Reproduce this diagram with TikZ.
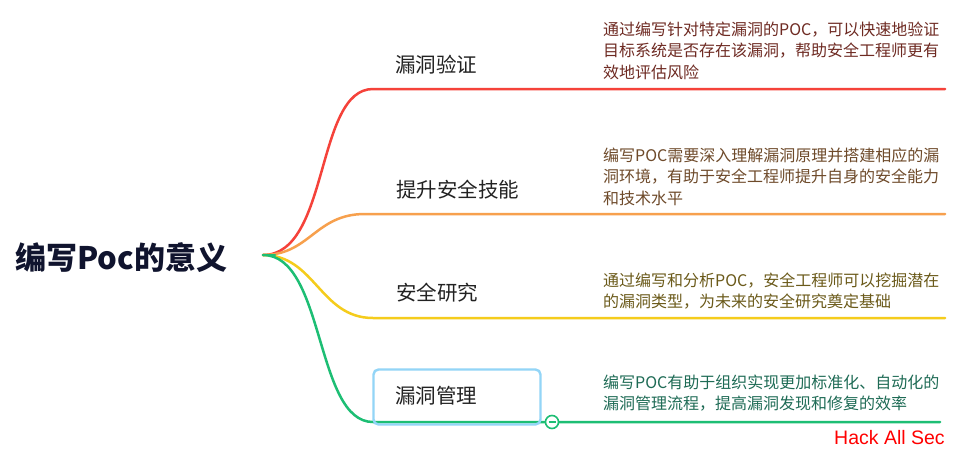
\documentclass[tikz,border=0pt]{standalone}
\usepackage{fontspec}
\newfontfamily\cjk{Noto Sans CJK SC}
\newfontfamily\wmfont{Liberation Sans}
\definecolor{cred}{HTML}{F5423A}
\definecolor{corange}{HTML}{F7A04D}
\definecolor{cyellow}{HTML}{F5CC1C}
\definecolor{cgreen}{HTML}{1DBE74}
\definecolor{cbox}{HTML}{93D5F7}
\definecolor{tred}{HTML}{6E2A22}
\definecolor{torange}{HTML}{6E4A2A}
\definecolor{tyellow}{HTML}{6B5A1A}
\definecolor{tgreen}{HTML}{1E6B55}
\definecolor{troot}{HTML}{10142E}
\definecolor{tlabel}{HTML}{222222}
\tikzset{
  branch/.style={line width=2.5pt, line cap=round},
  label/.style={anchor=west, inner sep=0pt, text=tlabel, font=\cjk\fontsize{20.5}{24}\selectfont},
  desc/.style={anchor=west, inner sep=0pt, align=left, font=\cjk\fontsize{16}{21.5}\selectfont},
}
\begin{document}
\begin{tikzpicture}[x=1pt,y=-1pt]
\useasboundingbox[fill=white] (0,0) rectangle (959,448);
% root
\node[anchor=west, inner sep=0pt, text=troot, font=\cjk\bfseries\fontsize{31}{36}\selectfont] (root) at (15,258) {编写Poc的意义};
\coordinate (o) at (263,255);
% ends
\coordinate (r1) at (373,89);  \coordinate (r2) at (945,89);
\coordinate (o1) at (365,214); \coordinate (o2) at (945,214);
\coordinate (y1) at (373,318); \coordinate (y2) at (945,318);
\coordinate (g1) at (373,422); \coordinate (g2) at (940,422);
% branches
\draw[branch, cred] (o) .. controls (330,255) and (315,89) .. (r1) -- (r2);
\draw[branch, corange] (o) .. controls (310,255) and (315,214) .. (o1) -- (o2);
\draw[branch, cyellow] (o) .. controls (315,255) and (320,318) .. (y1) -- (y2);
\draw[branch, cgreen] (o) .. controls (325,255) and (315,422) .. (g1) -- (g2);
\draw[branch, cgreen] (o) -- (275,255);
% labels
\node[label] (l1) at (395,65) {漏洞验证};
\node[label] (l2) at (396,190) {提升安全技能};
\node[label] (l3) at (396,293) {安全研究};
\node[draw=cbox, line width=2.4pt, rounded corners=5pt, minimum width=167pt, minimum height=55pt, inner sep=0pt] (box) at (457,397) {};
\node[label] (l4) at (395,396) {漏洞管理};
% collapse button
\node[circle, draw=cgreen, fill=white, line width=1.6pt, minimum size=13pt, inner sep=0pt] (btn) at (552,422) {};
\draw[cgreen, line width=1.6pt] ([xshift=-3.5pt]btn.center) -- ([xshift=3.5pt]btn.center);
% descriptions
\node[desc, text=tred] (d1) at (603,50.5) {通过编写针对特定漏洞的POC，可以快速地验证\\目标系统是否存在该漏洞，帮助安全工程师更有\\效地评估风险};
\node[desc, text=torange] (d2) at (603,176.5) {编写POC需要深入理解漏洞原理并搭建相应的漏\\洞环境，有助于安全工程师提升自身的安全能力\\和技术水平};
\node[desc, text=tyellow] (d3) at (603,291) {通过编写和分析POC，安全工程师可以挖掘潜在\\的漏洞类型，为未来的安全研究奠定基础};
\node[desc, text=tgreen] (d4) at (603,393) {编写POC有助于组织实现更加标准化、自动化的\\漏洞管理流程，提高漏洞发现和修复的效率};
% watermark
\node[anchor=west, inner sep=0pt, text=red, font=\wmfont\fontsize{19.5}{22}\selectfont] (wm) at (834,438) {Hack All Sec};
\end{tikzpicture}
\end{document}
